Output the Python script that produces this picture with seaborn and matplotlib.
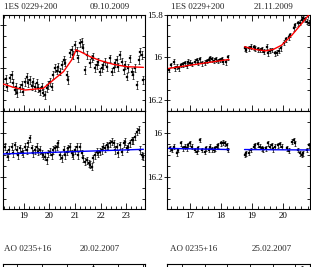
import numpy as np
import pandas as pd
import matplotlib
matplotlib.use("Agg")
import matplotlib.pyplot as plt
from matplotlib.ticker import MultipleLocator, FuncFormatter
import seaborn as sns

# ---- 1ES 0229+200, 09.10.2009 (left column) ----
ul_t = [18.19, 18.30, 18.35, 18.45, 18.52, 18.56, 18.65, 18.69, 18.74, 18.85,
        18.91, 18.98, 19.04, 19.11, 19.17, 19.24, 19.30, 19.37, 19.43, 19.50,
        19.57, 19.63, 19.70, 19.76, 19.83, 19.89, 19.96, 20.02, 20.09, 20.15,
        20.22, 20.28, 20.35, 20.41, 20.48, 20.55, 20.61, 20.68, 20.74, 20.81,
        20.87, 20.94, 21.00, 21.07, 21.13, 21.20, 21.26, 21.33, 21.40, 21.46,
        21.59, 21.66, 21.72, 21.79, 21.85, 21.92, 21.98, 22.05, 22.11, 22.18,
        22.24, 22.38, 22.44, 22.51, 22.57, 22.64, 22.70, 22.77, 22.83, 22.90,
        22.96, 23.03, 23.09, 23.16, 23.23, 23.29, 23.36, 23.42, 23.49, 23.55,
        23.62, 23.68]
ul_mag = [16.063, 16.052, 16.089, 16.047, 16.031, 16.070, 16.102, 16.089, 16.117, 16.094,
          16.078, 16.109, 16.063, 16.042, 16.070, 16.055, 16.083, 16.063, 16.089, 16.070,
          16.094, 16.105, 16.086, 16.114, 16.125, 16.094, 16.078, 16.063, 16.086, 16.031,
          16.000, 16.011, 15.993, 16.016, 15.985, 15.961, 15.974, 16.031, 16.055, 15.930,
          15.915, 15.938, 15.891, 15.918, 15.954, 15.883, 15.876, 15.907, 16.008, 15.938,
          15.977, 15.954, 15.946, 16.000, 15.985, 15.969, 16.016, 16.000, 15.985, 15.969,
          15.993, 15.954, 16.016, 16.000, 15.977, 15.961, 15.993, 15.938, 15.969, 16.008,
          15.985, 16.039, 16.000, 15.954, 16.016, 16.031, 16.000, 16.078, 15.961, 15.922,
          15.938, 16.055]
ul_err = 0.018
# red fit (rise, then decay)
ul_fit1_t = [18.19, 18.58, 19.04, 19.76, 20.15, 20.55, 20.87, 21.04]
ul_fit1_m = [16.074, 16.089, 16.102, 16.094, 16.055, 16.016, 15.961, 15.915]
ul_fit2_t = [21.04, 21.20, 21.59, 21.98, 22.51, 23.03, 23.68]
ul_fit2_m = [15.915, 15.922, 15.946, 15.964, 15.982, 15.993, 15.996]

ll_t = [18.19, 18.26, 18.32, 18.39, 18.43, 18.52, 18.58, 18.65, 18.72, 18.78,
        18.85, 18.91, 18.98, 19.04, 19.11, 19.17, 19.24, 19.30, 19.37, 19.43,
        19.50, 19.57, 19.63, 19.70, 19.76, 19.83, 19.89, 19.96, 20.02, 20.09,
        20.15, 20.22, 20.28, 20.35, 20.41, 20.48, 20.55, 20.61, 20.68, 20.74,
        20.81, 20.87, 20.94, 21.00, 21.07, 21.13, 21.20, 21.26, 21.33, 21.40,
        21.46, 21.53, 21.59, 21.66, 21.72, 21.79, 21.85, 21.92, 21.98, 22.05,
        22.11, 22.18, 22.24, 22.31, 22.38, 22.44, 22.51, 22.57, 22.64, 22.70,
        22.77, 22.83, 22.90, 22.96, 23.03, 23.09, 23.16, 23.23, 23.29, 23.36,
        23.42, 23.49, 23.55, 23.62, 23.68]
ll_mag = [16.077, 16.062, 16.092, 16.108, 16.077, 16.062, 16.092, 16.055, 16.077, 16.100,
          16.070, 16.085, 16.092, 16.062, 16.077, 16.047, 16.024, 16.070, 16.092, 16.077,
          16.062, 16.085, 16.077, 16.092, 16.100, 16.108, 16.123, 16.092, 16.085, 16.100,
          16.077, 16.070, 16.062, 16.047, 16.100, 16.115, 16.077, 16.100, 16.085, 16.070,
          16.062, 16.092, 16.100, 16.077, 16.062, 16.100, 16.062, 16.092, 16.115, 16.130,
          16.123, 16.138, 16.145, 16.153, 16.115, 16.100, 16.085, 16.092, 16.085, 16.077,
          16.062, 16.070, 16.055, 16.062, 16.047, 16.039, 16.047, 16.077, 16.062, 16.092,
          16.055, 16.085, 16.047, 16.039, 16.070, 16.062, 16.047, 16.032, 16.032, 16.017,
          15.994, 15.986, 16.077, 16.100, 16.108]
ll_err = 0.016
ll_fit_t = [18.19, 23.68]
ll_fit_m = [16.095, 16.074]

# ---- 1ES 0229+200, 21.11.2009 (right column) ----
ur_t = [16.34, 16.40, 16.48, 16.53, 16.59, 16.66, 16.73, 16.80, 16.85, 16.91,
        16.96, 17.02, 17.07, 17.16, 17.23, 17.28, 17.34, 17.41, 17.48, 17.55,
        17.61, 17.66, 17.72, 17.77, 17.84, 17.91, 17.98, 18.04, 18.09, 18.17, 18.23,
        18.77, 18.81, 18.90, 18.98, 19.06, 19.11, 19.20, 19.27, 19.33, 19.41,
        19.49, 19.54, 19.60, 19.65, 19.74, 19.81, 19.87, 19.95, 20.03, 20.10,
        20.19, 20.24, 20.35, 20.40, 20.49, 20.56, 20.62, 20.67, 20.73, 20.78, 20.85]
ur_mag = [16.059, 16.035, 16.020, 16.051, 16.043, 16.051, 16.035, 16.032, 16.028, 16.039,
          16.020, 16.025, 16.031, 16.020, 16.012, 16.025, 16.009, 16.028, 16.025, 16.017,
          16.012, 16.004, 16.009, 16.015, 16.009, 16.017, 16.012, 16.007, 16.020, 16.023, 15.999,
          15.957, 15.965, 15.957, 15.950, 15.953, 15.957, 15.962, 15.965, 15.962, 15.973,
          15.950, 15.981, 15.968, 15.965, 15.981, 15.978, 15.968, 15.957, 15.931, 15.915,
          15.906, 15.895, 15.864, 15.848, 15.840, 15.837, 15.825, 15.817, 15.822, 15.832, 15.837]
ur_err = 0.011
ur_fit1_t = [16.32, 18.27]
ur_fit1_m = [16.051, 16.009]
ur_fit2_t = [18.77, 19.10, 19.44, 19.70, 19.97, 20.30, 20.62, 20.89]
ur_fit2_m = [15.950, 15.962, 15.969, 15.962, 15.942, 15.895, 15.840, 15.793]

lr_t = [16.37, 16.42, 16.51, 16.59, 16.64, 16.73, 16.80, 16.85, 16.91, 16.96,
        17.02, 17.07, 17.16, 17.23, 17.28, 17.34, 17.39, 17.48, 17.52, 17.61,
        17.66, 17.72, 17.77, 17.82, 17.88, 17.93, 18.02, 18.09, 18.15, 18.20, 18.25,
        18.77, 18.81, 18.90, 18.98, 19.06, 19.11, 19.20, 19.27, 19.33, 19.38,
        19.46, 19.52, 19.60, 19.65, 19.70, 19.76, 19.84, 19.92, 19.97, 20.13,
        20.19, 20.30, 20.35, 20.40, 20.49, 20.56, 20.62, 20.67, 20.78, 20.85]
lr_mag = [16.070, 16.077, 16.062, 16.092, 16.077, 16.047, 16.070, 16.062, 16.070, 16.055,
          16.047, 16.062, 16.077, 16.085, 16.070, 16.032, 16.077, 16.085, 16.070, 16.077,
          16.062, 16.074, 16.077, 16.070, 16.062, 16.055, 16.047, 16.044, 16.047, 16.055, 16.077,
          16.100, 16.092, 16.089, 16.077, 16.062, 16.055, 16.052, 16.062, 16.070, 16.074,
          16.070, 16.047, 16.062, 16.055, 16.074, 16.062, 16.055, 16.052, 16.062, 16.070,
          16.080, 16.039, 16.032, 16.047, 16.077, 16.092, 16.100, 16.092, 16.077, 16.055]
lr_err = 0.011
lr_fit1_t = [16.32, 18.27]
lr_fit1_m = [16.070, 16.075]
lr_fit2_t = [18.77, 20.89]
lr_fit2_m = [16.075, 16.077]

# ---- AO 0235+16 (next row, cut off at the bottom) ----
ao_titles = [("AO 0235+16", "20.02.2007"), ("AO 0235+16", "25.02.2007")]
ao_t = [[4.0], [6.3]]
ao_mag = [[17.10], [17.10]]
ao_err = 0.08

FS = 6.5

sns.set_theme(style="ticks")
plt.rcParams["font.family"] = ["Liberation Serif", "DejaVu Serif"]
plt.rcParams["axes.linewidth"] = 0.8

fig = plt.figure(figsize=(3.11, 2.67), dpi=100)

W, H = 311.0, 267.0
def box(x0, x1, ytop, ybot):
    return [x0 / W, 1 - ybot / H, (x1 - x0) / W, (ybot - ytop) / H]

ax_ul = fig.add_axes(box(2.5, 144.7, 14.7, 111))
ax_ll = fig.add_axes(box(2.5, 144.7, 111, 209))
ax_ur = fig.add_axes(box(166.7, 310.3, 14.7, 111))
ax_lr = fig.add_axes(box(166.7, 310.3, 111, 209))
ax_ao1 = fig.add_axes(box(2.5, 144.7, 263.8, 360))
ax_ao2 = fig.add_axes(box(166.7, 310.3, 263.8, 360))

fmt = FuncFormatter(lambda v, p: f"{v:g}")

def style(ax, xlim, ylim, upper, show_y):
    ax.set_xlim(*xlim)
    ax.set_ylim(*ylim)
    ax.set_xlabel(""); ax.set_ylabel("")
    ax.xaxis.set_major_locator(MultipleLocator(1))
    ax.xaxis.set_minor_locator(MultipleLocator(0.2))
    ax.yaxis.set_major_locator(MultipleLocator(0.2))
    ax.yaxis.set_minor_locator(MultipleLocator(0.05))
    ax.yaxis.set_major_formatter(fmt)
    ax.xaxis.set_major_formatter(fmt)
    ax.tick_params(axis="x", which="both", direction="in", colors="black",
                   bottom=True, top=upper, labelbottom=not upper, labeltop=False,
                   labelsize=FS, pad=2, width=0.6)
    ax.tick_params(axis="x", which="major", length=4.5)
    ax.tick_params(axis="x", which="minor", length=2.5)
    ax.tick_params(axis="y", which="both", direction="in", colors="black",
                   left=True, right=True, labelleft=show_y, labelsize=FS, pad=1, width=0.6)
    ax.tick_params(axis="y", which="major", length=4)
    ax.tick_params(axis="y", which="minor", length=2)
    ax.tick_params(axis="y", which="major", direction="inout", right=False)
    for s in ax.spines.values():
        s.set_visible(True)
        s.set_color("black")

def draw(ax, t, m, err, fits, color):
    df = pd.DataFrame({"t": t, "mag": m})
    ax.errorbar(df["t"], df["mag"], yerr=err, fmt="none", ecolor="black",
                elinewidth=0.5, capsize=0.9, capthick=0.5, zorder=2)
    sns.scatterplot(data=df, x="t", y="mag", ax=ax, marker="s", s=2.5,
                    color="black", edgecolor="black", linewidth=0.2, zorder=3)
    for ft, fm in fits:
        fd = pd.DataFrame({"t": ft, "mag": fm})
        sns.lineplot(data=fd, x="t", y="mag", ax=ax, color=color, lw=1.0,
                     sort=False, estimator=None, zorder=4)

draw(ax_ul, ul_t, ul_mag, ul_err, [(ul_fit1_t, ul_fit1_m), (ul_fit2_t, ul_fit2_m)], "#ff0000")
draw(ax_ll, ll_t, ll_mag, ll_err, [(ll_fit_t, ll_fit_m)], "#0000ff")
draw(ax_ur, ur_t, ur_mag, ur_err, [(ur_fit1_t, ur_fit1_m), (ur_fit2_t, ur_fit2_m)], "#ff0000")
draw(ax_lr, lr_t, lr_mag, lr_err, [(lr_fit1_t, lr_fit1_m), (lr_fit2_t, lr_fit2_m)], "#0000ff")

style(ax_ul, (18.16, 23.73), (16.2, 15.75), True, False)
style(ax_ll, (18.16, 23.73), (16.345, 15.9), False, False)
style(ax_ur, (16.26, 20.89), (16.25, 15.8), True, True)
style(ax_lr, (16.26, 20.89), (16.345, 15.9), False, True)
for ax in (ax_ll, ax_lr):
    ax.tick_params(axis="x", which="both", top=False)

# cut-off next row
for ax, xlim, t, m in ((ax_ao1, (0.425, 6.068), ao_t[0], ao_mag[0]),
                       (ax_ao2, (0.323, 6.66), ao_t[1], ao_mag[1])):
    ax.errorbar(t, m, yerr=ao_err, fmt="none", ecolor="black",
                elinewidth=0.5, capsize=0.9, capthick=0.5)
    ax.set_xlim(*xlim)
    ax.set_ylim(18.0, 17.0)
    ax.xaxis.set_major_locator(MultipleLocator(1))
    ax.yaxis.set_major_locator(MultipleLocator(0.2))
    ax.tick_params(axis="x", which="both", direction="in", top=True, bottom=False,
                   labelbottom=False, width=0.6, colors="black")
    ax.tick_params(axis="x", which="major", length=3.5)
    ax.tick_params(axis="x", which="minor", length=0)
    ax.tick_params(axis="y", which="both", direction="in", left=True, right=True,
                   labelleft=False, length=3, width=0.6, colors="black")
    for s in ax.spines.values():
        s.set_visible(True)
        s.set_color("black")

# titles
fig.text(4 / W, 1 - 9 / H, "1ES 0229+200", fontsize=FS, ha="left", va="baseline")
fig.text(110 / W, 1 - 9 / H, "09.10.2009", fontsize=FS, ha="center", va="baseline")
fig.text(171 / W, 1 - 9 / H, "1ES 0229+200", fontsize=FS, ha="left", va="baseline")
fig.text(274 / W, 1 - 9 / H, "21.11.2009", fontsize=FS, ha="center", va="baseline")
fig.text(4 / W, 1 - 251 / H, ao_titles[0][0], fontsize=FS, ha="left", va="baseline")
fig.text(100 / W, 1 - 251 / H, ao_titles[0][1], fontsize=FS, ha="center", va="baseline")
fig.text(170 / W, 1 - 251 / H, ao_titles[1][0], fontsize=FS, ha="left", va="baseline")
fig.text(272 / W, 1 - 251 / H, ao_titles[1][1], fontsize=FS, ha="center", va="baseline")

fig.savefig("out.png", dpi=100)
